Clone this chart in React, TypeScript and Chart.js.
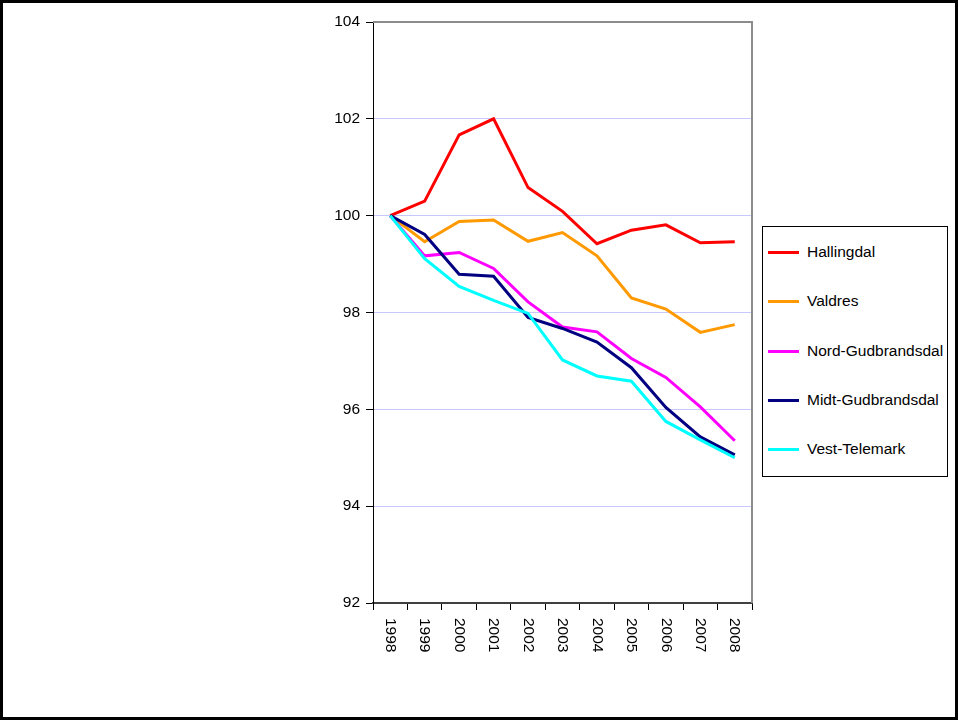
import React, { useEffect, useRef } from "react";
import { Chart, registerables } from "chart.js";

Chart.register(...registerables);

const years = ["1998", "1999", "2000", "2001", "2002", "2003", "2004", "2005", "2006", "2007", "2008"];
const yTicks = [92, 94, 96, 98, 100, 102, 104];

const hallingdal = [100, 100.3, 101.67, 102.0, 100.58, 100.09, 99.42, 99.7, 99.81, 99.44, 99.46];
const valdres = [100, 99.46, 99.88, 99.91, 99.47, 99.65, 99.17, 98.3, 98.07, 97.59, 97.75];
const nordGudbrandsdal = [100, 99.17, 99.24, 98.91, 98.22, 97.7, 97.6, 97.05, 96.66, 96.05, 95.35];
const midtGudbrandsdal = [100, 99.61, 98.79, 98.75, 97.9, 97.67, 97.39, 96.86, 96.04, 95.43, 95.06];
const vestTelemark = [100, 99.11, 98.54, 98.25, 97.98, 97.02, 96.69, 96.58, 95.75, 95.37, 95.0];

const seriesNames = ["Hallingdal", "Valdres", "Nord-Gudbrandsdal", "Midt-Gudbrandsdal", "Vest-Telemark"];
const seriesData = [hallingdal, valdres, nordGudbrandsdal, midtGudbrandsdal, vestTelemark];
const seriesColors = ["#ff0000", "#ff9900", "#ff00ff", "#000080", "#00ffff"];

const FONT = "'Liberation Sans', Arial, sans-serif";

export default function App() {
  const canvasRef = useRef<HTMLCanvasElement | null>(null);

  useEffect(() => {
    if (!canvasRef.current) return;
    const frame = {
      id: "frame",
      beforeDatasetsDraw(chart: any) {
        const { ctx, chartArea } = chart;
        ctx.save();
        ctx.strokeStyle = "#8c8c8c";
        ctx.lineWidth = 2;
        ctx.beginPath();
        ctx.moveTo(chartArea.left, chartArea.top);
        ctx.lineTo(chartArea.right, chartArea.top);
        ctx.lineTo(chartArea.right, chartArea.bottom);
        ctx.stroke();
        ctx.restore();
      },
      afterDraw(chart: any) {
        const { ctx, chartArea } = chart;
        const xs = chart.scales.x;
        ctx.save();
        ctx.fillStyle = "#000";
        ctx.font = `15.5px ${FONT}`;
        ctx.textAlign = "left";
        ctx.textBaseline = "middle";
        years.forEach((label, i) => {
          const x = xs.getPixelForValue(i);
          ctx.save();
          ctx.translate(x, chartArea.bottom + 15);
          ctx.rotate(Math.PI / 2);
          ctx.fillText(label, 0, 0);
          ctx.restore();
        });
        ctx.restore();
      },
    };

    const chart = new Chart(canvasRef.current, {
      type: "line",
      data: {
        labels: years,
        datasets: seriesNames.map((name, i) => ({
          label: name,
          data: seriesData[i],
          borderColor: seriesColors[i],
          backgroundColor: seriesColors[i],
          borderWidth: 3,
          pointRadius: 0,
          tension: 0,
          fill: false,
          order: seriesNames.length - i,
        })),
      },
      options: {
        responsive: false,
        animation: false,
        devicePixelRatio: 1,
        layout: { padding: { left: 313, right: 206, top: 22, bottom: 97 } },
        plugins: { legend: { display: false }, tooltip: { enabled: false } },
        scales: {
          x: {
            type: "category",
            offset: true,
            grid: {
              offset: true,
              drawOnChartArea: false,
              drawTicks: true,
              tickLength: 7,
              color: "#000",
              tickColor: "#000",
            },
            border: { color: "#404040", width: 2 },
            ticks: { display: false },
            afterFit(scale: any) {
              scale.height = 20;
            },
          },
          y: {
            min: 92,
            max: 104,
            afterBuildTicks(scale: any) {
              scale.ticks = yTicks.map((v) => ({ value: v }));
            },
            grid: {
              color: (c: any) =>
                c.tick && (c.tick.value === 104 || c.tick.value === 92) ? "rgba(0,0,0,0)" : "#c8c8ff",
              lineWidth: 1,
              tickLength: 7,
              tickColor: "#000",
            },
            border: { color: "#000", width: 1 },
            ticks: {
              color: "#000",
              padding: 6,
              font: { family: FONT, size: 15.5 },
            },
            afterFit(scale: any) {
              scale.width = 60;
            },
          },
        },
      },
      plugins: [frame],
    } as any);
    return () => chart.destroy();
  }, []);

  const legendYs = [252, 301, 351, 400, 449];

  return (
    <div style={{ position: "fixed", left: 0, top: 0, width: 958, height: 720, background: "#fff" }}>
      <canvas ref={canvasRef} width={958} height={720} style={{ position: "absolute", left: 0, top: 0, width: 958, height: 720 }} />
      <div
        style={{
          position: "absolute",
          left: 0,
          top: 0,
          width: 958,
          height: 720,
          border: "3px solid #000",
          boxSizing: "border-box",
          pointerEvents: "none",
        }}
      />
      <div
        style={{
          position: "absolute",
          left: 762,
          top: 226,
          width: 186,
          height: 251,
          border: "1px solid #000",
          boxSizing: "border-box",
          background: "#fff",
        }}
      />
      {seriesNames.map((name, i) => (
        <React.Fragment key={name}>
          <div
            style={{
              position: "absolute",
              left: 768,
              top: legendYs[i] - 1.5,
              width: 31,
              height: 3,
              background: seriesColors[i],
            }}
          />
          <div
            style={{
              position: "absolute",
              left: 807,
              top: legendYs[i] - 10,
              height: 20,
              lineHeight: "20px",
              fontFamily: FONT,
              fontSize: 15.5,
              color: "#000",
              whiteSpace: "nowrap",
            }}
          >
            {name}
          </div>
        </React.Fragment>
      ))}
    </div>
  );
}
